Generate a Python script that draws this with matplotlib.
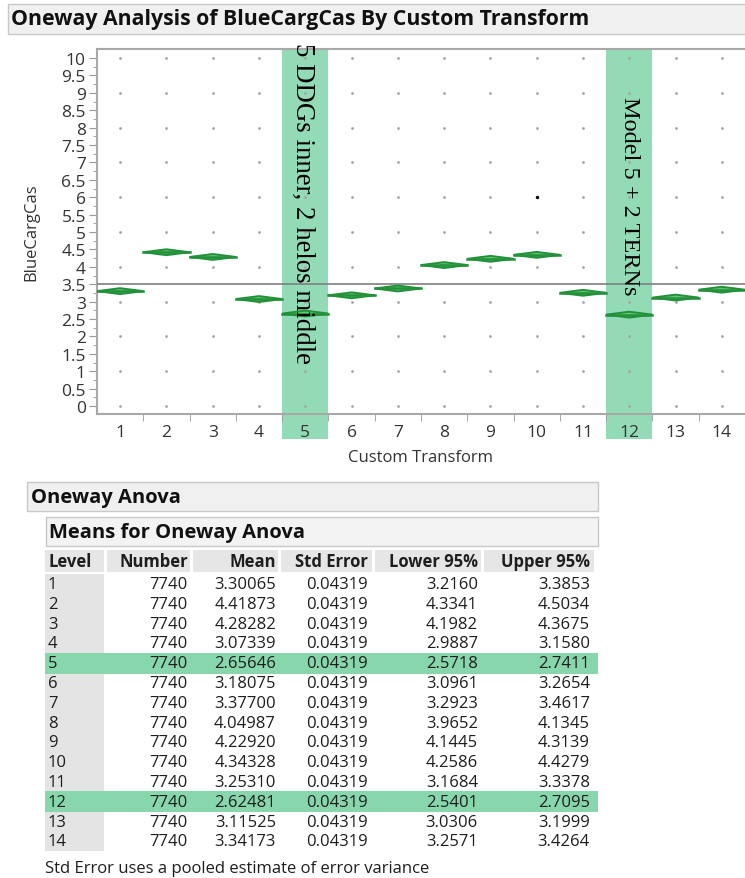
import numpy as np
import matplotlib
matplotlib.use("Agg")
from matplotlib import pyplot as plt
from matplotlib.patches import Rectangle, Polygon

# ---- data ----
levels = list(range(1, 15))
numbers = [7740] * 14
means = [3.30065, 4.41873, 4.28282, 3.07339, 2.65646, 3.18075, 3.37700,
         4.04987, 4.22920, 4.34328, 3.25310, 2.62481, 3.11525, 3.34173]
std_err = [0.04319] * 14
lower95 = [3.2160, 4.3341, 4.1982, 2.9887, 2.5718, 3.0961, 3.2923,
           3.9652, 4.1445, 4.2586, 3.1684, 2.5401, 3.0306, 3.2571]
upper95 = [3.3853, 4.5034, 4.3675, 3.1580, 2.7411, 3.2654, 3.4617,
           4.1345, 4.3139, 4.4279, 3.3378, 2.7095, 3.1999, 3.4264]
point_values = list(range(0, 11))      # responses are whole numbers 0..10
odd_point = (10, 6)                     # the one dark point
highlight = {5: "5 DDGs inner, 2 helos middle", 12: "Model 5 + 2 TERNs"}

W, H = 745, 879
SANS = ["Open Sans", "DejaVu Sans"]
SERIF = ["Liberation Serif", "DejaVu Serif"]
BAND = "#93dbb6"
TXT = "#1e1e1e"


def px(x0, y0, x1, y1):
    # pixel box -> figure fraction rect
    return [x0 / W, 1 - y1 / H, (x1 - x0) / W, (y1 - y0) / H]


fig = plt.figure(figsize=(W / 100, H / 100), dpi=100)

# overlay for headers and table, pixel coords
bg = fig.add_axes([0, 0, 1, 1])
bg.set_xlim(0, W)
bg.set_ylim(H, 0)
bg.axis("off")


def box(x0, y0, x1, y1, fc, ec="none", lw=1):
    bg.add_patch(Rectangle((x0, y0), x1 - x0, y1 - y0, fc=fc, ec=ec, lw=lw))


box(8, 5, 760, 35, "#f0f0f0", "#c8c8c8")
bg.text(11, 20, "Oneway Analysis of BlueCargCas By Custom Transform",
        family=SANS, weight="bold", fontsize=15.3, va="center", color="#111")

# ---- the oneway plot ----
ax = fig.add_axes(px(97, 50, 745, 415))
y_per_px = 10 / (407 - 59)
ytop = 10 + 9 * y_per_px
ax.set_ylim(-8 * y_per_px, ytop)
ax.set_xlim(0.5, 14.5)

for lv, label in highlight.items():
    ybot = -33 * y_per_px
    ax.add_patch(Rectangle((lv - 0.5, ybot), 1, ytop - ybot,
                           fc=BAND, ec="none", clip_on=False, zorder=0))

gx, gy = np.meshgrid(levels, point_values)
ax.scatter(gx.ravel(), gy.ravel(), s=4, c="#a5a5a5", lw=0, zorder=2)
ax.scatter([odd_point[0]], [odd_point[1]], s=6, c="black", lw=0, zorder=3)

ax.axhline(np.mean(means), color="#7f7f7f", lw=1.2, zorder=3)

for lv, m, lo, hi in zip(levels, means, lower95, upper95):
    d = Polygon([(lv - 0.5, m), (lv, hi), (lv + 0.5, m), (lv, lo)],
                closed=True, fc="#62c66f", ec="#23913a", lw=1.4, zorder=4)
    ax.add_patch(d)
    ax.plot([lv - 0.5, lv + 0.5], [m, m], color="#23913a", lw=1.8, zorder=5)

ax.text(4.95, 10.45, highlight[5], family=SERIF, fontsize=19.4, rotation=270,
        ha="center", va="top", color="black", zorder=6, clip_on=False)
ax.text(12, 8.9, highlight[12], family=SERIF, fontsize=17.5, rotation=270,
        ha="center", va="top", color="black", zorder=6)

yt = np.arange(0, 10.01, 0.5)
ax.set_yticks(yt)
ax.set_yticklabels(["%g" % v for v in yt])
ax.set_yticks(np.arange(0, 10.01, 0.25), minor=True)
ax.set_xticks(levels)
ax.set_xticks(np.arange(1.5, 14, 1), minor=True)
ax.tick_params(axis="x", which="major", length=0, pad=7, labelsize=12.5, labelcolor="#333")
ax.tick_params(axis="x", which="minor", length=5, color="#999")
ax.tick_params(axis="y", which="major", length=6, pad=2, labelsize=12.5, labelcolor="#333",
               color="#999")
ax.tick_params(axis="y", which="minor", length=3, color="#999")
for lab in ax.get_xticklabels() + ax.get_yticklabels():
    lab.set_family(SANS)
for s in ["left", "bottom", "top"]:
    ax.spines[s].set_color("#a8a8a8")
    ax.spines[s].set_linewidth(1.5)
ax.spines["right"].set_visible(False)
ax.set_ylabel("BlueCargCas", family=SANS, fontsize=12, color="#333", labelpad=16)
ax.set_xlabel("Custom Transform", family=SANS, fontsize=12, color="#333", labelpad=7)

# ---- Oneway Anova report ----
box(27, 483, 598, 512, "#f0f0f0", "#c8c8c8")
bg.text(31, 498, "Oneway Anova", family=SANS, weight="bold", fontsize=14.5,
        va="center", color="#111")
box(46, 518, 598, 547, "#f3f3f3", "#c8c8c8")
bg.text(49, 533, "Means for Oneway Anova", family=SANS, weight="bold",
        fontsize=14.5, va="center", color="#111")

headers = ["Level", "Number", "Mean", "Std Error", "Lower 95%", "Upper 95%"]
head_cells = [(45, 104), (107, 190), (193, 278), (281, 372), (375, 481), (484, 594)]
col_right = [None, 188, 276, 368, 478, 590]
for (c0, c1), name, xr in zip(head_cells, headers, col_right):
    box(c0, 551, c1, 573, "#e6e6e6")
    if xr is None:
        bg.text(49, 562, name, family=SANS, weight="bold", fontsize=12,
                va="center", color=TXT)
    else:
        bg.text(xr, 562, name, family=SANS, weight="bold", fontsize=12,
                va="center", ha="right", color=TXT)

row0, step = 585, 19.8
box(45, 575, 104, row0 + 13 * step + 10, "#e4e4e4")
for i, lv in enumerate(levels):
    y = row0 + i * step
    if lv in highlight:
        box(45, y - 10.5, 598, y + 10.5, "#88d6ac")
    cells = [str(lv), str(numbers[i]), "%.5f" % means[i], "%.5f" % std_err[i],
             "%.4f" % lower95[i], "%.4f" % upper95[i]]
    bg.text(48, y, cells[0], family=SANS, fontsize=12, va="center", color=TXT)
    for xr, c in zip(col_right[1:], cells[1:]):
        bg.text(xr, y, c, family=SANS, fontsize=12, va="center", ha="right",
                color=TXT)

bg.text(45, 869, "Std Error uses a pooled estimate of error variance",
        family=SANS, fontsize=12, va="center", color=TXT)

fig.savefig("out.png", dpi=100)
